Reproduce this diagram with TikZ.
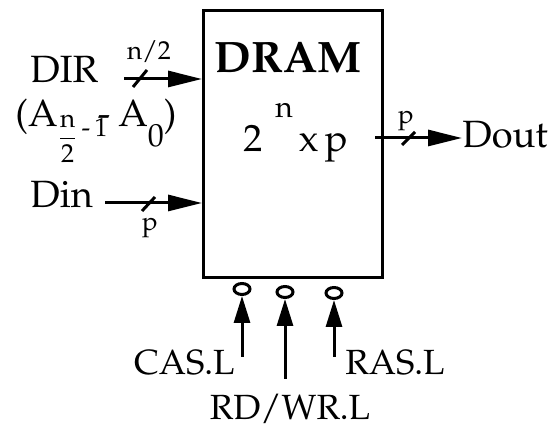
\documentclass[tikz,border=0pt]{standalone}
\usepackage[T1]{fontenc}
\usepackage{mathpazo}
\usepackage{tikz}
\usetikzlibrary{arrows.meta,shapes.geometric}

\begin{document}
\begin{tikzpicture}[x=0.5pt,y=-0.5pt,line cap=butt,line join=miter]
  \tikzset{wire/.style={line width=1.5pt},
    bus/.style={wire,-{Triangle[length=17pt,width=8pt]}},
    sig/.style={wire,-{Triangle[length=13.5pt,width=8pt]}},
    bubble/.style={draw,ellipse,line width=1.5pt,inner sep=0pt,minimum width=8pt,minimum height=5.5pt},
    lab/.style={font=\fontsize{19}{21}\selectfont,inner sep=0pt},
    ctllab/.style={font=\fontsize{17.5}{19}\selectfont,inner sep=0pt},
    small/.style={font=\fontsize{13}{14}\selectfont,inner sep=0pt}}

  \path[use as bounding box] (0,0) rectangle (556,431);

  \node[draw,line width=1.5pt,minimum width=89.5pt,minimum height=133.5pt,inner sep=0pt] (dram) at (293,144) {};
  \node[inner sep=0pt,font=\fontsize{22}{24}\selectfont\bfseries] (title) at (288,57) {DRAM};
  \node[lab,anchor=base west] (size) at (243,152) {2\hspace{6.5pt}\raisebox{17pt}{\fontsize{15}{16}\selectfont n}\hspace{3pt}x\,p};

  % left side inputs
  \node[lab,anchor=base west] (dir) at (30,83) {DIR};
  \node[lab,anchor=base west] (addr) at (15,127) {(A\rlap{\fontsize{13}{14}\selectfont\raisebox{-9pt}{$\displaystyle\frac{\mathrm{n}}{2}$}\hspace{2pt}\raisebox{-5pt}{-\,1}}\hspace{20pt}-\hspace{4pt}A\raisebox{-10pt}{\fontsize{16}{17}\selectfont 0})};
  \node[lab,anchor=base west] (din) at (30,208) {Din};
  \coordinate (dirtail) at (124,79);
  \coordinate (dintail) at (105,203);
  \draw[bus] (dirtail) -- (dirtail -| dram.west);
  \draw[bus] (dintail) -- (dintail -| dram.west);
  \draw[wire] (133,87) -- (147,70);
  \draw[wire] (142,211) -- (155,197);
  \node[small] (dirw) at (149,52) {n/2};
  \node[small] (dinw) at (150,228) {p};

  % output
  \node[lab,anchor=base west] (dout) at (462,148) {Dout};
  \coordinate (douttail) at (375,138);
  \draw[bus] (douttail) -- (douttail -| dout.west);
  \draw[wire] (402,145) -- (415,132);
  \node[small] (doutw) at (406,121) {p};

  % control inputs, active low
  \node[bubble] (casb) at (242,289) {};
  \node[bubble] (rdb) at (285,292) {};
  \node[bubble] (rasb) at (334,293) {};
  \coordinate (castail) at (242,357);
  \coordinate (rdtail) at (285,379);
  \coordinate (rastail) at (334,357);
  \draw[sig] (castail) -- (casb.south);
  \draw[sig] (rdtail) -- (rdb.south);
  \draw[sig] (rastail) -- (rasb.south);
  \node[ctllab,anchor=base east] (cas) at (235,375) {CAS.L};
  \node[ctllab,anchor=base west] (ras) at (345,375) {RAS.L};
  \node[ctllab,anchor=base] (rdwr) at (290,420) {RD/WR.L};
\end{tikzpicture}
\end{document}
